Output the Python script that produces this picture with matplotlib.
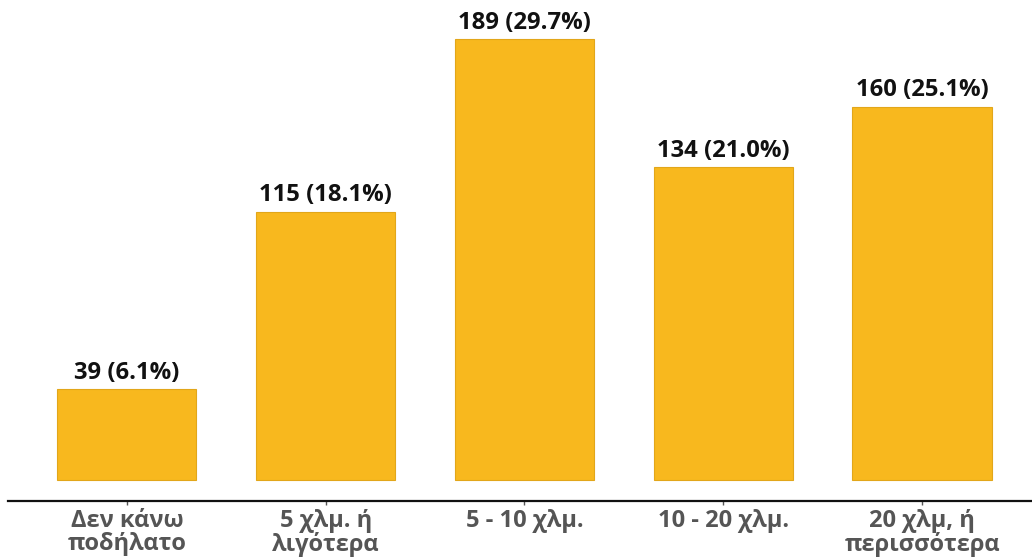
import matplotlib
matplotlib.use("Agg")
import matplotlib.pyplot as plt

categories = ["Δεν κάνω\nποδήλατο", "5 χλμ. ή\nλιγότερα", "5 - 10 χλμ.",
              "10 - 20 χλμ.", "20 χλμ, ή\nπερισσότερα"]
counts = [39, 115, 189, 134, 160]
percents = [6.1, 18.1, 29.7, 21.0, 25.1]

plt.rcParams["font.family"] = ["Open Sans", "DejaVu Sans"]

fig = plt.figure(figsize=(10.32, 5.6), dpi=100)
ax = fig.add_axes([8 / 1032, 59 / 560, 1024 / 1032, 501 / 560])

x = list(range(len(categories)))
ax.bar(x, counts, width=0.70, color="#F8B81E", edgecolor="#E2A61A", linewidth=0.8)

for xi, c, p in zip(x, counts, percents):
    ax.text(xi, c + 1.8, f"{c} ({p:.1f}%)", ha="center", va="bottom",
            fontsize=17.2, fontweight="bold", color="#111111")

ax.set_xlim(-0.598, 4.553)
ax.set_ylim(-9, 205.7)
ax.set_xticks(x)
ax.set_xticklabels(categories, fontsize=17, fontweight="bold", color="#555555",
                   linespacing=0.95)
ax.tick_params(axis="x", length=3, width=1, color="#555555", pad=3)
ax.set_yticks([])
for side in ("left", "right", "top"):
    ax.spines[side].set_visible(False)
ax.spines["bottom"].set_color("#111111")
ax.spines["bottom"].set_linewidth(1.6)

fig.savefig("out.png", dpi=100)
